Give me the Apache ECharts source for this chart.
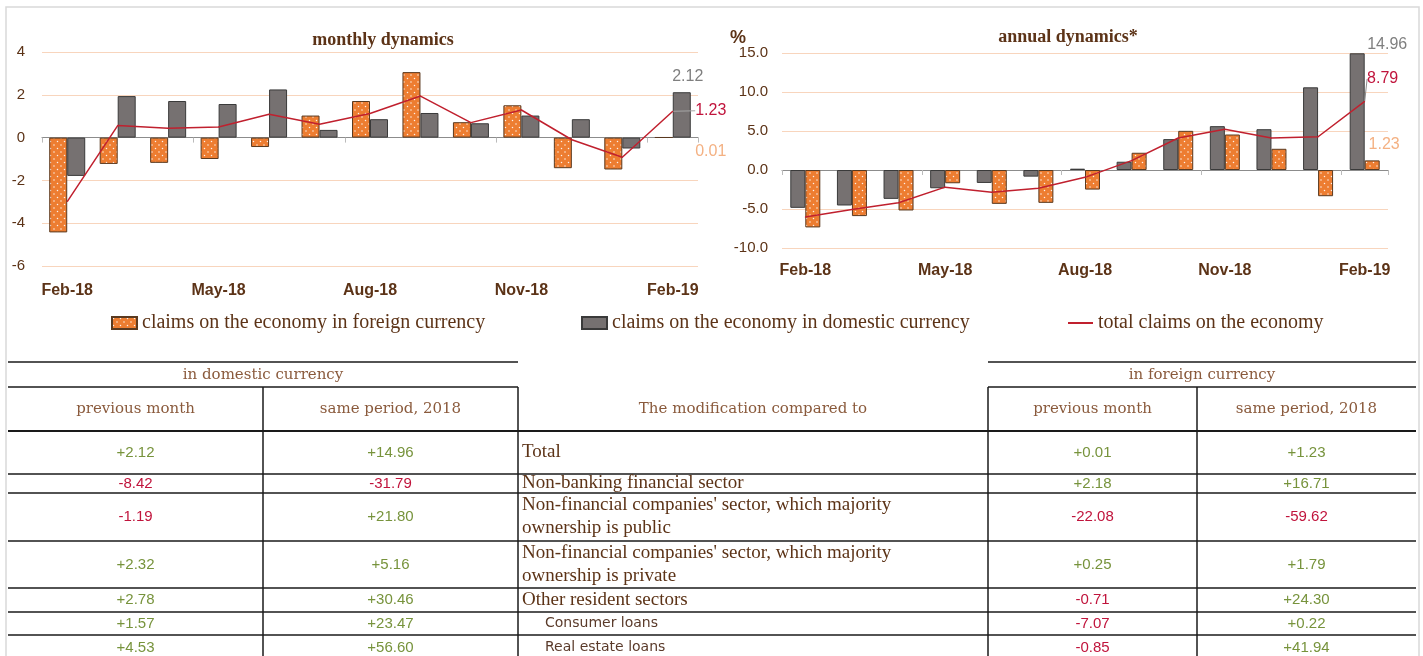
<!DOCTYPE html>
<html><head><meta charset="utf-8">
<script src="https://cdn.jsdelivr.net/npm/echarts@6/dist/echarts.min.js"></script>
<style>html,body{margin:0;padding:0;background:#fff}#c{width:1423px;height:656px}</style>
</head><body><div id="c"></div>
<script>
// ---------- DATA ----------
const months = ['Feb-18','Mar-18','Apr-18','May-18','Jun-18','Jul-18','Aug-18','Sep-18','Oct-18','Nov-18','Dec-18','Jan-19','Feb-19'];
const monthlyForeign  = [-4.43,-1.23,-1.18,-1.00,-0.44,1.03,1.71,3.06,0.72,1.51,-1.43,-1.49,0.01];
const monthlyDomestic = [-1.79,1.94,1.71,1.57,2.25,0.36,0.86,1.15,0.67,1.03,0.86,-0.51,2.12];
const monthlyTotal    = [-2.99,0.56,0.44,0.50,1.09,0.62,1.13,1.94,0.70,1.29,-0.10,-0.92,1.23];
const annualDomestic  = [-4.85,-4.55,-3.70,-2.34,-1.66,-0.85,0.17,1.06,3.96,5.62,5.23,10.60,14.96];
const annualForeign   = [-7.36,-5.91,-5.19,-1.70,-4.34,-4.21,-2.51,2.21,5.02,4.55,2.72,-3.36,1.23];
const annualTotal     = [-6.04,-5.06,-4.20,-2.20,-2.85,-2.34,-0.94,1.20,4.10,5.23,4.09,4.26,8.79];
const seriesNames = ['claims on the economy in foreign currency','claims on the economy in domestic currency','total claims on the economy'];
const chartTitles = ['monthly dynamics','annual dynamics*'];

const tableGroupHeaders = ['in domestic currency','The modification compared to','in foreign currency'];
const tableColHeaders = ['previous month','same period, 2018','previous month','same period, 2018'];
const rowLabels = [
  ['Total'],
  ['Non-banking financial sector'],
  ["Non-financial companies' sector, which majority",'ownership is public'],
  ["Non-financial companies' sector, which majority",'ownership is private'],
  ['Other resident sectors'],
  ['Consumer loans'],
  ['Real estate loans']
];
const rowIsSub = [false,false,false,false,false,true,true];
const domPrev = ['+2.12','-8.42','-1.19','+2.32','+2.78','+1.57','+4.53'];
const domYoY  = ['+14.96','-31.79','+21.80','+5.16','+30.46','+23.47','+56.60'];
const forPrev = ['+0.01','+2.18','-22.08','+0.25','-0.71','-7.07','-0.85'];
const forYoY  = ['+1.23','+16.71','-59.62','+1.79','+24.30','+0.22','+41.94'];

// ---------- STYLE ----------
const BROWN = '#5c3317', HEAD = '#8a5a3c', GREEN = '#77933c', RED = '#c0143c';
const ORANGE = '#ed7d31', GRAY = '#767171', LINE = '#c0202e', EDGE = '#5a3a20';

const pc = document.createElement('canvas'); pc.width = 7; pc.height = 7;
const g = pc.getContext('2d');
g.fillStyle = ORANGE; g.fillRect(0,0,7,7);
g.fillStyle = 'rgba(255,255,255,0.9)';
g.beginPath(); g.arc(1.5,1.5,0.75,0,Math.PI*2); g.fill();
g.beginPath(); g.arc(5,5,0.75,0,Math.PI*2); g.fill();
const orangePattern = {image: pc, repeat: 'repeat'};

function lastLabel(arr, lbl){
  return arr.map((v,i)=> i===arr.length-1 ? {value:v, label:Object.assign({show:true, fontFamily:'Liberation Sans', fontSize:16}, lbl)} : v);
}

// ---------- TABLE (graphic) ----------
const X0 = 8, X1 = 1416, XL = 518, XR = 988, XDC = 263, XFC = 1197;
const Y_TOP = 362, Y_GRP = 387, Y_HEAD = 431;
const rowEdges = [431,474,493,541,588,612,635,660];
const gfx = [];
gfx.push({type:'rect', shape:{x:6,y:7,width:1413,height:660}, style:{fill:'none', stroke:'#d9d9d9', lineWidth:1.5}, z:0});
function hline(y,a,b,w){ gfx.push({type:'line', shape:{x1:a,y1:y,x2:b,y2:y}, style:{stroke:'#1a1a1a', lineWidth:w||1.5}}); }
function vline(x,a,b){ gfx.push({type:'line', shape:{x1:x,y1:a,x2:x,y2:b}, style:{stroke:'#1a1a1a', lineWidth:1.5}}); }
function txt(s,x,y,font,fill,align){ gfx.push({type:'text', style:{text:s, x:x, y:y, font:font, fill:fill, textAlign:align||'center', textVerticalAlign:'middle'}}); }
hline(Y_TOP,X0,XL); hline(Y_TOP,XR,X1);
hline(Y_GRP,X0,XL); hline(Y_GRP,XR,X1);
hline(Y_HEAD,X0,X1,2);
for (let i=1;i<rowEdges.length-1;i++) hline(rowEdges[i],X0,X1);
[XDC,XL,XR,XFC].forEach(x=>vline(x,Y_GRP,660));
const headFont = '15px "DejaVu Serif"';
txt(tableGroupHeaders[0],(X0+XL)/2,375,headFont,HEAD);
txt(tableGroupHeaders[1],(XL+XR)/2,409,headFont,HEAD);
txt(tableGroupHeaders[2],(XR+X1)/2,375,headFont,HEAD);
const colCenters = [(X0+XDC)/2,(XDC+XL)/2,(XR+XFC)/2,(XFC+X1)/2];
tableColHeaders.forEach((h,i)=>txt(h,colCenters[i],409,headFont,HEAD));
const numFont = '15px "Liberation Sans"';
rowLabels.forEach((lines,r)=>{
  const yc = (rowEdges[r]+rowEdges[r+1])/2;
  [domPrev[r],domYoY[r],forPrev[r],forYoY[r]].forEach((v,c)=>{
    txt(v,colCenters[c],yc,numFont,v.charAt(0)==='-'?RED:GREEN);
  });
  if (rowIsSub[r]) {
    txt(lines[0],545,yc,'14px "DejaVu Sans"','#5a3a2a','left');
  } else if (lines.length===1) {
    txt(lines[0],522,yc,'19px "Liberation Serif"',BROWN,'left');
  } else {
    txt(lines[0],522,yc-11.5,'19px "Liberation Serif"',BROWN,'left');
    txt(lines[1],522,yc+11.5,'19px "Liberation Serif"',BROWN,'left');
  }
});
txt(chartTitles[0],383,40,'bold 18px "Liberation Serif"',BROWN);
txt(chartTitles[1],1068,37,'bold 18px "Liberation Serif"',BROWN);
txt('%',738,38,'bold 18px "Liberation Sans"',BROWN);

// ---------- CHART ----------
const axisLabelX = {color:BROWN, fontFamily:'Liberation Sans', fontWeight:'bold', fontSize:16, interval:2};
function labelAxis(grid, margin){
  return {type:'category', gridIndex:grid, data:months, position:'bottom',
    axisLine:{show:false, onZero:false}, axisTick:{show:false},
    axisLabel:Object.assign({margin:margin}, axisLabelX)};
}
function zeroAxis(grid){
  return {type:'category', gridIndex:grid, data:months, position:'top',
    axisLine:{show:true, onZero:true, lineStyle:{color:'#8c8c8c', width:1}},
    axisTick:{show:true, inside:true, interval:2, length:5, lineStyle:{color:'#bbb'}},
    axisLabel:{show:false}};
}
const splitLine = {show:true, lineStyle:{color:'#f8d5bd', width:1}};
const legendText = {color:BROWN, fontFamily:'Liberation Serif', fontSize:20};

const option = {
  animation:false,
  backgroundColor:'#fff',
  grid:[
    {left:42, top:52, width:656, height:214},
    {left:782, top:53, width:606, height:195}
  ],
  legend:[
    {left:106, top:308, itemWidth:25, itemHeight:12, icon:'rect', data:[seriesNames[0]], textStyle:legendText},
    {left:576, top:308, itemWidth:25, itemHeight:12, icon:'rect', data:[seriesNames[1]], textStyle:legendText},
    {left:1063, top:308, itemWidth:25, itemHeight:2, icon:'rect', data:[seriesNames[2]], textStyle:legendText}
  ],
  xAxis:[labelAxis(0,17), zeroAxis(0), labelAxis(1,15), zeroAxis(1)],
  yAxis:[
    {type:'value', gridIndex:0, min:-6, max:4, interval:2, splitLine:splitLine,
     axisLine:{show:false}, axisTick:{show:false},
     axisLabel:{color:BROWN, fontFamily:'Liberation Sans', fontSize:15, margin:17}},
    {type:'value', gridIndex:1, min:-10, max:15, interval:5, splitLine:splitLine,
     axisLine:{show:false}, axisTick:{show:false},
     axisLabel:{color:BROWN, fontFamily:'Liberation Sans', fontSize:15, margin:14, formatter:v=>v.toFixed(1)}}
  ],
  series:[
    {name:seriesNames[0], type:'bar', xAxisIndex:0, yAxisIndex:0, barWidth:18, barGap:'0%',
     itemStyle:{color:orangePattern, borderColor:EDGE, borderWidth:1},
     data:lastLabel(monthlyForeign,{position:'right', distance:22, offset:[0,14], color:'#f4b183'})},
    {name:seriesNames[1], type:'bar', xAxisIndex:0, yAxisIndex:0, barWidth:18, barGap:'0%',
     itemStyle:{color:GRAY, borderColor:'#3a3a3a', borderWidth:1},
     data:lastLabel(monthlyDomestic,{position:'top', distance:8, offset:[6,0], color:'#7f7f7f'})},
    {name:seriesNames[2], type:'line', xAxisIndex:0, yAxisIndex:0, symbol:'circle', symbolSize:1, showSymbol:true, z:5,
     lineStyle:{color:LINE, width:1.5}, itemStyle:{color:LINE},
     labelLine:{show:true, lineStyle:{color:'#a6a6a6', width:1}},
     labelLayout:function(p){ return {dx:38, dy:13}; },
     data:lastLabel(monthlyTotal,{position:'top', distance:5, color:RED})},
    {name:seriesNames[1], type:'bar', xAxisIndex:2, yAxisIndex:1, barWidth:15, barGap:'0%',
     itemStyle:{color:GRAY, borderColor:'#3a3a3a', borderWidth:1},
     data:lastLabel(annualDomestic,{position:'top', distance:1, offset:[30,0], color:'#7f7f7f'})},
    {name:seriesNames[0], type:'bar', xAxisIndex:2, yAxisIndex:1, barWidth:15, barGap:'0%',
     itemStyle:{color:orangePattern, borderColor:EDGE, borderWidth:1},
     data:lastLabel(annualForeign,{position:'top', distance:8, offset:[12,0], color:'#f4b183'})},
    {name:seriesNames[2], type:'line', xAxisIndex:2, yAxisIndex:1, symbol:'circle', symbolSize:1, showSymbol:true, z:5,
     lineStyle:{color:LINE, width:1.5}, itemStyle:{color:LINE},
     labelLine:{show:true, lineStyle:{color:'#8c8c8c', width:1}},
     labelLayout:function(p){ return {dx:18, dy:-9}; },
     data:lastLabel(annualTotal,{position:'top', distance:5, color:RED})}
  ],
  graphic:gfx
};
const chart = echarts.init(document.getElementById('c'));
chart.setOption(option);
</script></body></html>
